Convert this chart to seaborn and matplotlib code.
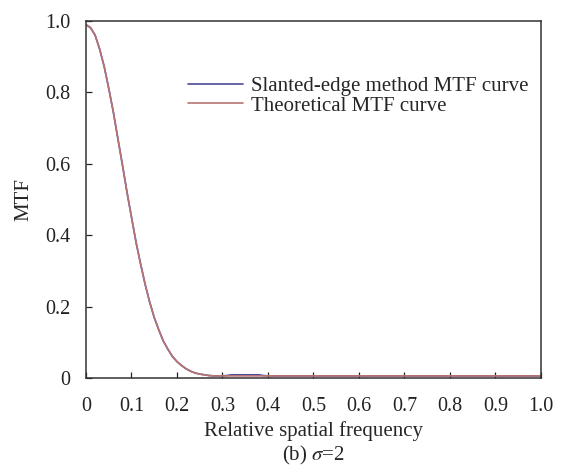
import matplotlib
matplotlib.use("Agg")
import matplotlib.pyplot as plt
import seaborn as sns
import pandas as pd

# Relative spatial frequency samples
freq = [0.00, 0.01, 0.02, 0.03, 0.04, 0.05, 0.06, 0.07, 0.08, 0.09, 0.10,
        0.11, 0.12, 0.13, 0.14, 0.15, 0.16, 0.17, 0.18, 0.19, 0.20,
        0.21, 0.22, 0.23, 0.24, 0.25, 0.26, 0.27, 0.28, 0.29, 0.30,
        0.31, 0.32, 0.34, 0.36, 0.38, 0.39, 0.40, 0.50,
        0.60, 0.70, 0.80, 0.90, 1.00]
# Theoretical MTF curve
mtf_theory = [0.990, 0.982, 0.960, 0.922, 0.872, 0.812, 0.745, 0.672, 0.597,
              0.522, 0.450, 0.381, 0.319, 0.263, 0.212, 0.170, 0.134, 0.104,
              0.080, 0.061, 0.046, 0.035, 0.026, 0.019, 0.014, 0.011, 0.009,
              0.007, 0.006, 0.006, 0.006,
              0.006, 0.006, 0.006, 0.006, 0.006, 0.006, 0.006, 0.006,
              0.006, 0.006, 0.006, 0.006, 0.006]
# Slanted-edge method MTF curve
mtf_slanted = [0.990, 0.981, 0.961, 0.921, 0.873, 0.811, 0.746, 0.671, 0.598,
               0.521, 0.451, 0.380, 0.320, 0.262, 0.213, 0.169, 0.135, 0.103,
               0.081, 0.060, 0.046, 0.035, 0.026, 0.019, 0.014, 0.011, 0.009,
               0.007, 0.006, 0.006, 0.006,
               0.007, 0.009, 0.009, 0.009, 0.009, 0.007, 0.006, 0.006,
               0.006, 0.006, 0.006, 0.006, 0.006]

labels = ["Slanted-edge method MTF curve", "Theoretical MTF curve"]
xticks = [0, 0.1, 0.2, 0.3, 0.4, 0.5, 0.6, 0.7, 0.8, 0.9, 1.0]
xticklabels = ["0", "0.1", "0.2", "0.3", "0.4", "0.5", "0.6", "0.7", "0.8", "0.9", "1.0"]
yticks = [0, 0.2, 0.4, 0.6, 0.8, 1.0]
yticklabels = ["0", "0.2", "0.4", "0.6", "0.8", "1.0"]

df = pd.DataFrame({
    "freq": freq * 2,
    "mtf": mtf_slanted + mtf_theory,
    "curve": [labels[0]] * len(freq) + [labels[1]] * len(freq),
})

sns.set_style("ticks")
plt.rcParams["font.family"] = ["Liberation Serif", "DejaVu Serif"]
plt.rcParams["mathtext.fontset"] = "stix"

fig = plt.figure(figsize=(5.64, 4.69), dpi=100)
ax = fig.add_axes([0.1525, 0.194, 0.8065, 0.761])

palette = {labels[0]: "#4a4a9a", labels[1]: "#b87373"}
sns.lineplot(data=df, x="freq", y="mtf", hue="curve", palette=palette,
             linewidth=1.2, ax=ax)

ax.set_xlim(0, 1.0)
ax.set_ylim(0, 1.0)
ax.set_xticks(xticks)
ax.set_xticklabels(xticklabels)
ax.set_yticks(yticks)
ax.set_yticklabels(yticklabels)
ax.tick_params(direction="in", length=4, width=0.9, labelsize=14.5, pad=11,
               colors="#222222")
ax.tick_params(axis="x", pad=14)
for s in ax.spines.values():
    s.set_linewidth(1.1)
    s.set_color("#333333")

ax.set_xlabel("Relative spatial frequency", fontsize=15, labelpad=3)
ax.set_ylabel("MTF", fontsize=15, labelpad=9)

leg = ax.legend(loc="upper right", bbox_to_anchor=(1.0, 0.88), frameon=False,
                fontsize=15, handlelength=2.6, handletextpad=0.4,
                labelspacing=0.0, borderaxespad=0.2)

fig.text(0.556, 0.028, r"(b) $\sigma$=2", ha="center", va="center", fontsize=15)

fig.savefig("out.png", dpi=100, facecolor="white")
